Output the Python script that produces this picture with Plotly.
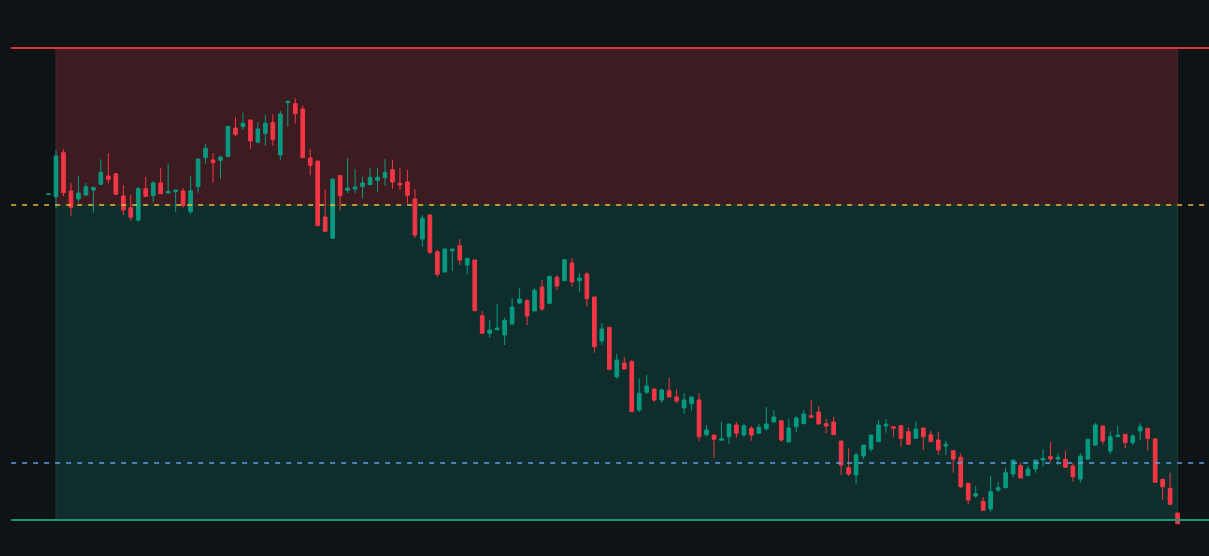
import plotly.graph_objects as go

# bar data (one entry per candle)
open_ = [405.5, 403.3, 447.3, 409, 401, 405, 410, 415.7, 424, 426.3,
         404, 392.3, 380, 411.3, 404.3, 417, 407, 408.3, 409, 388.3,
         413.3, 442.3, 440, 439.7, 443.3, 472, 473.3, 480, 457.7, 466.7,
         477.3, 445, 497.3, 496.3, 491, 442, 439, 383, 361.7, 424.3,
         409.7, 411, 413.3, 415.3, 419.7, 422.3, 430.3, 416.7, 418, 401,
         361, 385, 348.3, 328, 349.3, 354.3, 335, 340, 284.3, 266.7,
         270.3, 265, 276, 297, 299.3, 289, 313, 296.7, 322.7, 319.3,
         337, 319.3, 326, 303, 259, 272.7, 223.3, 237, 238.3, 190,
         207.7, 211, 200, 209.3, 203, 192, 196.3, 200, 165.3, 165,
         159.7, 163.3, 175, 165, 171.7, 166.7, 171.3, 178, 179.3, 158,
         173.3, 176.3, 184.3, 188, 176.3, 178, 159, 132.3, 125, 144,
         151, 158.3, 174, 173.3, 174.3, 168.3, 161.7, 172, 165.3, 160,
         154, 149.3, 142.7, 116.7, 104, 98.7, 91, 110, 112.3, 126,
         134.3, 124.3, 131, 140, 143.3, 141, 140.7, 134, 121, 141,
         155, 174, 149, 163.3, 165.7, 157.3, 169, 171.7, 161, 120.7,
         111.7, 87]
high = [406.5, 450, 450.7, 416.7, 424, 417, 412.7, 440.7, 446.7, 427,
        415, 405, 413, 423.3, 419, 432, 436.3, 410, 412, 424.3,
        441, 456, 446.7, 444.3, 474, 482.7, 487.3, 480, 477.7, 485,
        486, 489.3, 498.7, 501.7, 494.3, 451, 439, 410.7, 421, 425,
        442, 431, 423.3, 432, 432, 441, 440, 432, 430.3, 411,
        385, 386, 350, 351, 351, 361, 342, 340, 289, 280,
        296, 282.3, 302, 311.7, 301, 311.7, 320, 324, 325, 340.3,
        342, 326.7, 328.3, 303, 276.7, 273, 246, 243, 240, 221.7,
        225, 211, 211, 222, 210.7, 206.7, 203, 206.7, 175, 165,
        178.3, 176, 178, 176.3, 174, 176, 193, 190, 180, 181,
        184, 190, 200, 194, 181, 183.3, 159, 151.7, 147.3, 155,
        165, 180, 181, 174, 174.3, 172.7, 179, 172, 169, 168.3,
        159.3, 150, 146.7, 117, 114, 103, 124, 118, 132.3, 140,
        137.3, 134.3, 140, 151, 158, 147, 149.3, 136.7, 146.7, 160.7,
        177.3, 174, 168.7, 174.3, 166, 166, 176.7, 172, 162, 121,
        127.3, 87]
low = [405, 392, 404, 384.3, 396.7, 404, 387.3, 415, 416.7, 405,
       385, 379.3, 378, 403, 397.3, 406, 406.3, 388.3, 392.3, 385.7,
       407.3, 436.3, 417.3, 421.3, 443, 463.7, 470, 451, 456.7, 454.3,
       454.3, 440, 473.3, 476.7, 442, 424.7, 374, 368, 361.7, 389.3,
       406.7, 407, 401.7, 415, 408.3, 414.3, 411.3, 410, 396.3, 362,
       353.3, 345.7, 323.3, 328, 329, 335, 325.7, 289, 266, 262.3,
       270.3, 255, 276, 296, 275, 289, 289, 296.7, 310, 319.3,
       313.3, 308.3, 293.3, 247.3, 255, 230.3, 221, 231, 188, 187.7,
       206, 198, 197.3, 203, 196.7, 186, 189.3, 159, 163.3, 142.3,
       159.7, 156.3, 162.3, 163.3, 159.3, 166.7, 169.3, 178, 158.3, 158,
       167.7, 176.3, 181.7, 176, 166.7, 165, 125, 124, 116, 141,
       148.3, 158.3, 167.3, 163.3, 153.3, 155.7, 161.7, 150, 158.3, 145,
       145, 127.3, 111.7, 96, 102.3, 89.7, 88.3, 108.3, 112.3, 122.3,
       122, 124.3, 127.3, 133.3, 138.3, 135, 132.7, 118.3, 117.3, 140,
       154, 155.7, 145.7, 163.3, 151.7, 155, 160, 149.3, 117.7, 100,
       95.7, 76.3]
close = [406, 444, 407.3, 392.7, 407, 413.3, 412.7, 427.7, 420.7, 405.7,
         390, 382.7, 411.3, 403.7, 417, 406.3, 408.7, 410, 394.7, 409.3,
         441, 451.7, 437.3, 443, 473.7, 465.7, 476.7, 459, 471, 476.7,
         460.7, 486, 498.7, 486.3, 442.3, 434.7, 374.3, 368.7, 421, 404.3,
         412, 413, 417, 422.7, 422.7, 427.7, 418, 415, 404.7, 365,
         381.7, 347.7, 325.7, 351, 351, 340, 341.7, 289.3, 266.7, 270,
         272, 279.7, 293, 301, 284, 309.7, 291, 323.7, 314, 340.3,
         318, 322, 301.3, 253.3, 271, 230.7, 240, 231, 188.3, 206.7,
         214, 200, 210, 203, 199, 200, 203, 163.3, 170, 160.7,
         161.3, 176, 166.7, 174.3, 165, 172.7, 176, 183, 160, 172,
         182, 186, 182.7, 176, 174, 165.3, 135, 126, 145, 155,
         165, 175, 175.7, 171.7, 161.7, 155.7, 171, 163.3, 158.3, 150,
         155.7, 141, 113.3, 100, 106.3, 89.7, 108.3, 112.3, 127.3, 140,
         122, 131, 140, 141.7, 141, 142.7, 132.7, 123.3, 144, 160.7,
         175, 159, 163.3, 165, 157.3, 164, 173.3, 161.7, 117.7, 113.3,
         95.7, 76.3]
bar_index = list(range(len(close)))

# position levels
stop_level = 552
entry_level = 395
mid_level = 137
target_level = 80
zone_start = 1
zone_end = 151

bg = '#0e1316'

fig = go.Figure()

fig.add_trace(go.Candlestick(
    x=bar_index, open=open_, high=high, low=low, close=close,
    increasing=dict(line=dict(color='#089981', width=1), fillcolor='#089981'),
    decreasing=dict(line=dict(color='#f23645', width=1), fillcolor='#f23645'),
    showlegend=False,
))

# shaded risk / reward zones
fig.add_shape(type='rect', x0=zone_start, x1=zone_end, y0=entry_level, y1=stop_level,
              fillcolor='#3c1c21', line=dict(color='#4a2328', width=1), layer='below')
fig.add_shape(type='rect', x0=zone_start, x1=zone_end, y0=target_level, y1=entry_level,
              fillcolor='#0f2e2b', line=dict(color='#1a3d37', width=1), layer='below')

# level lines
fig.add_shape(type='line', x0=-5, x1=160, y0=stop_level, y1=stop_level,
              line=dict(color='#d9363f', width=2))
fig.add_shape(type='line', x0=-5, x1=160, y0=target_level, y1=target_level,
              line=dict(color='#13977a', width=2))
fig.add_shape(type='line', x0=-5, x1=160, y0=entry_level, y1=entry_level,
              line=dict(color='#f2b73a', width=1.3, dash='5px,6px'))
fig.add_shape(type='line', x0=-5, x1=160, y0=mid_level, y1=mid_level,
              line=dict(color='#629ee6', width=1.3, dash='5px,6px'))

fig.update_layout(
    width=1209, height=556,
    margin=dict(l=0, r=0, t=0, b=0),
    paper_bgcolor=bg, plot_bgcolor=bg,
    showlegend=False,
    xaxis=dict(visible=False, range=[-6.49, 155.2], rangeslider=dict(visible=False)),
    yaxis=dict(visible=False, range=[44, 600]),
)

# drop the page's default body margin so the figure fills the window
fig.write_html("out.html", config={'displayModeBar': False},
               post_script="document.body.style.margin='0';"
                           "document.body.style.overflow='hidden';"
                           "document.body.style.background='" + bg + "';")
